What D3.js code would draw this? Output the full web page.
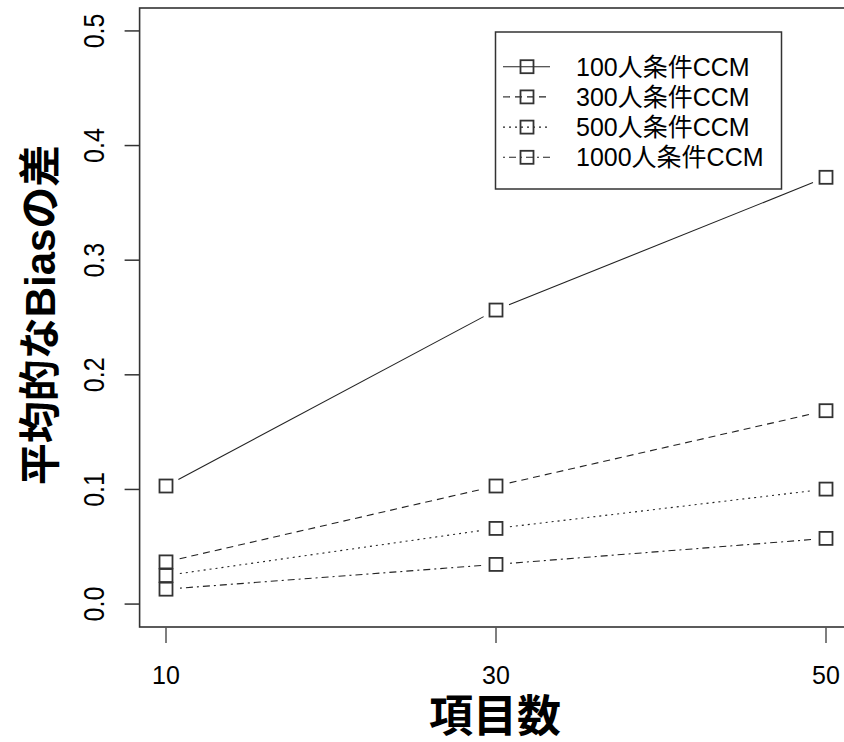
<!DOCTYPE html>
<html>
<head>
<meta charset="utf-8">
<script src="https://cdn.jsdelivr.net/npm/d3@7"></script>
<style>
  html, body { margin: 0; padding: 0; background: #fff; }
  svg { display: block; }
  text { font-family: "Liberation Sans", Arial, "Noto Sans CJK JP", sans-serif; fill: #000; }
</style>
</head>
<body>
<svg id="chart" width="844" height="742"></svg>
<script>
// Number of items on the x axis
const itemCounts = [10, 30, 50];

// Mean bias difference per sample-size condition
const seriesNames = ["100人条件CCM", "300人条件CCM", "500人条件CCM", "1000人条件CCM"];
const bias100  = [0.103, 0.2565, 0.3723];
const bias300  = [0.0368, 0.103, 0.1687];
const bias500  = [0.0249, 0.066, 0.1003];
const bias1000 = [0.0130, 0.0346, 0.0573];

const yTicks = [0.0, 0.1, 0.2, 0.3, 0.4, 0.5];
const xTicks = [10, 30, 50];

const xTitle = "項目数";
const yTitle = "平均的なBiasの差";

// line types: solid, dashed, dotted, dot-dash
const dashes = [null, "7,5", "2,4", "2,4,7,4"];

const series = [bias100, bias300, bias500, bias1000].map((vals, i) => ({
  name: seriesNames[i],
  dash: dashes[i],
  points: itemCounts.map((x, j) => ({ x, y: vals[j] }))
}));

const svg = d3.select("#chart");

// R-style axis ranges padded by 4% on each side
const x = d3.scaleLinear().domain([8.4, 51.6]).range([139.6, 852.4]);
const y = d3.scaleLinear().domain([-0.02, 0.52]).range([627, 8]);

const ink = "#333";

// plot frame
svg.append("rect")
  .attr("x", x(8.4)).attr("y", y(0.52))
  .attr("width", x(51.6) - x(8.4)).attr("height", y(-0.02) - y(0.52))
  .attr("fill", "none").attr("stroke", ink).attr("stroke-width", 1.6);

// y axis ticks and labels
const yAxis = svg.append("g");
yAxis.selectAll("line").data(yTicks).join("line")
  .attr("x1", x(8.4) - 15).attr("x2", x(8.4))
  .attr("y1", d => y(d)).attr("y2", d => y(d))
  .attr("stroke", ink).attr("stroke-width", 1.5);
yAxis.selectAll("text").data(yTicks).join("text")
  .attr("transform", d => `translate(104,${y(d)}) rotate(-90) scale(1,1.15)`)
  .attr("text-anchor", "middle")
  .attr("font-size", 25)
  .text(d => d3.format(".1f")(d));

// x axis ticks and labels
const xAxis = svg.append("g");
xAxis.selectAll("line").data(xTicks).join("line")
  .attr("x1", d => x(d)).attr("x2", d => x(d))
  .attr("y1", y(-0.02)).attr("y2", y(-0.02) + 16)
  .attr("stroke", "#555").attr("stroke-width", 1.5);
xAxis.selectAll("text").data(xTicks).join("text")
  .attr("x", d => x(d)).attr("y", 684)
  .attr("text-anchor", "middle")
  .attr("font-size", 25)
  .text(d => d);

// axis titles
svg.append("text")
  .attr("x", 495).attr("y", 732)
  .attr("text-anchor", "middle")
  .attr("font-size", 44).attr("font-weight", "bold")
  .text(xTitle);
svg.append("text")
  .attr("transform", `translate(55,315) rotate(-90)`)
  .attr("text-anchor", "middle")
  .attr("font-size", 42).attr("font-weight", "bold")
  .text(yTitle);

// lines with gaps around the points (type = "b")
const gap = 14;
const plot = svg.append("g");
series.forEach(s => {
  const segs = d3.pairs(s.points).map(([a, b]) => {
    const x1 = x(a.x), y1 = y(a.y), x2 = x(b.x), y2 = y(b.y);
    const len = Math.hypot(x2 - x1, y2 - y1);
    const ux = (x2 - x1) / len, uy = (y2 - y1) / len;
    return { x1: x1 + ux * gap, y1: y1 + uy * gap, x2: x2 - ux * gap, y2: y2 - uy * gap };
  });
  plot.append("g").selectAll("line").data(segs).join("line")
    .attr("x1", d => d.x1).attr("y1", d => d.y1)
    .attr("x2", d => d.x2).attr("y2", d => d.y2)
    .attr("stroke", "#222").attr("stroke-width", 1.1)
    .attr("stroke-dasharray", s.dash);
  plot.append("g").selectAll("rect").data(s.points).join("rect")
    .attr("x", d => x(d.x) - 6.5).attr("y", d => y(d.y) - 6.5)
    .attr("width", 13).attr("height", 13)
    .attr("fill", "none").attr("stroke", ink).attr("stroke-width", 1.8);
});

// legend
const legend = svg.append("g");
legend.append("rect")
  .attr("x", 495.5).attr("y", 32).attr("width", 286).attr("height", 157)
  .attr("fill", "#fff").attr("stroke", ink).attr("stroke-width", 1.5);
const rows = legend.selectAll("g.row").data(series).join("g")
  .attr("class", "row")
  .attr("transform", (d, i) => `translate(0,${66.7 + i * 30.2})`);
rows.append("line")
  .attr("x1", 503).attr("x2", 550).attr("y1", 0).attr("y2", 0)
  .attr("stroke", "#222").attr("stroke-width", 1.1)
  .attr("stroke-dasharray", d => d.dash);
rows.append("rect")
  .attr("x", 527 - 6.5).attr("y", -6.5).attr("width", 13).attr("height", 13)
  .attr("fill", "none").attr("stroke", ink).attr("stroke-width", 1.8);
rows.append("text")
  .attr("x", 576).attr("y", 9)
  .attr("font-size", 25)
  .text(d => d.name);
</script>
</body>
</html>
